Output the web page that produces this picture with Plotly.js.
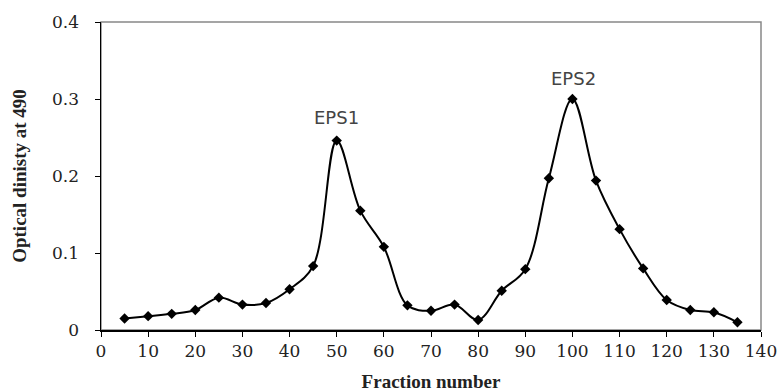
<!DOCTYPE html>
<html><head><meta charset="utf-8">
<script src="https://cdn.plot.ly/plotly-3.0.1.min.js"></script>
<style>html,body{margin:0;padding:0;background:#fff}#chart{width:779px;height:392px}</style>
</head><body><div id="chart"></div>
<script>
var fraction = [5,10,15,20,25,30,35,40,45,50,55,60,65,70,75,80,85,90,95,100,105,110,115,120,125,130,135];
var opticalDensity = [0.015,0.018,0.021,0.026,0.042,0.033,0.035,0.053,0.083,0.246,0.155,0.108,0.032,0.025,0.033,0.013,0.051,0.079,0.197,0.300,0.194,0.131,0.080,0.039,0.026,0.023,0.010];
var peakLabels = ["EPS1","EPS2"];
var peakX = [50,100.3];
var peakY = [0.276,0.327];
var xTicks = [0,10,20,30,40,50,60,70,80,90,100,110,120,130,140];
var yTicks = [0,0.1,0.2,0.3,0.4];
var yTickText = ["0","0.1","0.2","0.3","0.4"];

var trace = {
  x: fraction, y: opticalDensity, type: 'scatter', mode: 'lines+markers',
  line: {color: '#000', width: 2, shape: 'spline', smoothing: 1},
  marker: {symbol: 'diamond', size: 8, color: '#000'},
  showlegend: false, hoverinfo: 'none'
};
var annotations = peakLabels.map(function(t,i){
  return {x: peakX[i], y: peakY[i], xref:'x', yref:'y', text: t, showarrow:false,
    font:{family:'DejaVu Sans, sans-serif', size:18, color:'#444'}};
});
var layout = {
  width: 779, height: 392,
  margin: {l: 101, r: 18, t: 22, b: 62},
  paper_bgcolor: '#fff', plot_bgcolor: '#fff',
  xaxis: {range: [0,140], tickvals: xTicks, ticks: 'outside', ticklen: 5, tickcolor: '#000',
    showline: true, linecolor: '#000', linewidth: 1.5, showgrid: false, zeroline: false,
    tickfont: {family: 'DejaVu Serif, serif', size: 17, color: '#222'},
    title: {text: '<b>Fraction number</b>', font: {family: 'Liberation Serif, serif', size: 19, color: '#222'}, standoff: 18}},
  yaxis: {range: [0,0.4], tickvals: yTicks, ticktext: yTickText, ticks: 'outside', ticklen: 5, tickcolor: '#000',
    ticklabelstandoff: 12,
    showline: true, linecolor: '#000', linewidth: 1.5, showgrid: false, zeroline: false,
    tickfont: {family: 'DejaVu Serif, serif', size: 17, color: '#222'},
    title: {text: '<b>Optical dinisty at 490</b>', font: {family: 'Liberation Serif, serif', size: 19, color: '#222'}, standoff: 20}},
  shapes: [{type:'rect', xref:'paper', yref:'paper', x0:0, x1:1, y0:0, y1:1, line:{color:'#888', width:1.5}, layer:'below'}],
  annotations: annotations
};
Plotly.newPlot('chart', [trace], layout, {staticPlot: true, displayModeBar: false});
</script></body></html>
